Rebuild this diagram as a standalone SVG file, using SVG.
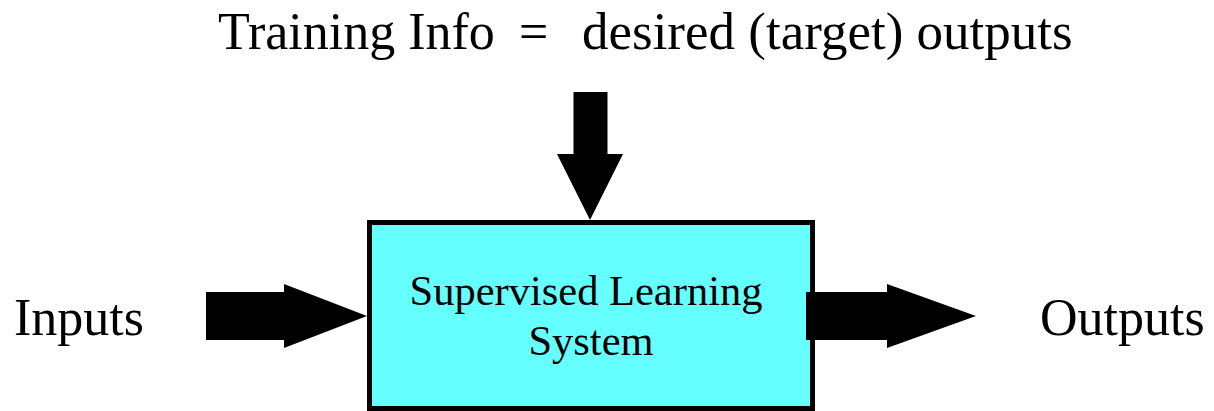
<svg xmlns="http://www.w3.org/2000/svg" width="1214" height="411" viewBox="0 0 1214 411">
  <style>
    .lbl { font-family: "Liberation Serif", "Times New Roman", serif; fill: #000000; }
    .big { font-size: 52px; }
    .box-text { font-size: 42.5px; }
    .box { fill: #66FFFF; stroke: #000000; stroke-width: 5; }
    .arrow { fill: #000000; stroke: none; }
  </style>
  <rect x="0" y="0" width="1214" height="411" fill="#FFFFFF"/>
  <g id="training-info">
    <text class="lbl big" y="49"><tspan x="218">Training Info</tspan><tspan x="519">=</tspan><tspan x="582" font-size="53">desired (target) outputs</tspan></text>
  </g>
  <g id="inputs">
    <text class="lbl big" x="14" y="335">Inputs</text>
  </g>
  <g id="outputs">
    <text class="lbl big" x="1040" y="335">Outputs</text>
  </g>
  <g id="supervised-learning-system">
    <rect class="box" x="369.5" y="222.5" width="443" height="186"/>
    <text class="lbl box-text" text-anchor="middle"><tspan x="586" y="305">Supervised Learning</tspan><tspan x="591" y="355">System</tspan></text>
  </g>
  <g id="connectors">
    <polygon class="arrow" points="573.5,92 607.5,92 607.5,154 623,154 590,220 557,154 573.5,154"/>
    <polygon class="arrow" points="206,292 284,292 284,284 367,316 284,348 284,340 206,340"/>
    <polygon class="arrow" points="806,292 887,292 887,284 976,316 887,348 887,340 806,340"/>
  </g>
</svg>
